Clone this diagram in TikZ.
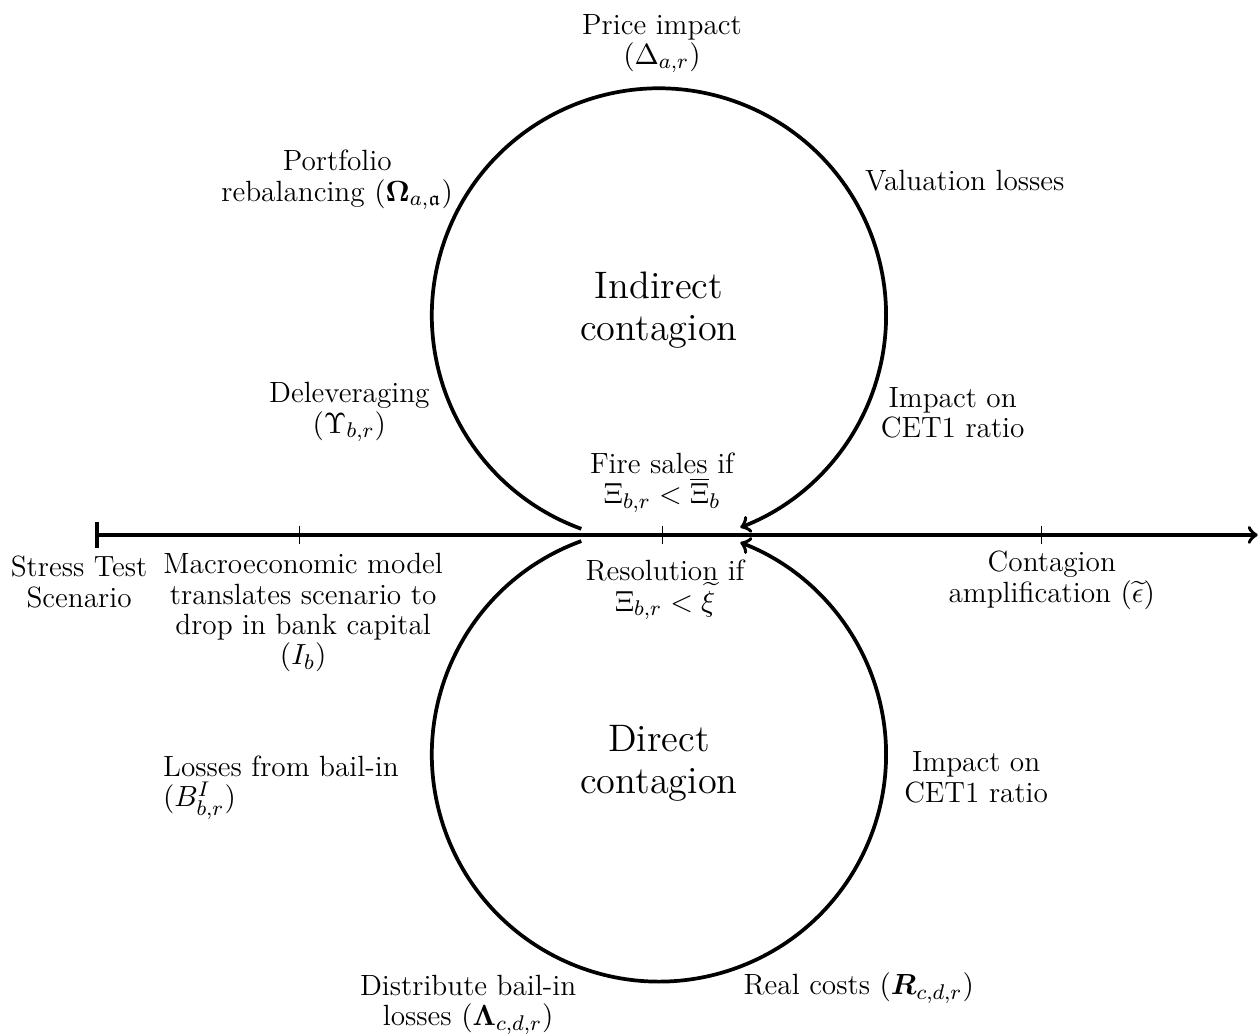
\documentclass[tikz,border=0pt]{standalone}
\usepackage{amsmath,amssymb}
\usepackage{tikz}
\usetikzlibrary{positioning,calc}

\begin{document}
\begin{tikzpicture}[line width=1.4pt]
    \useasboundingbox (-1.255,-6.618) rectangle (15.39,7.067);
    \tikzset{lbl/.style={align=center, inner sep=1pt, font=\fontsize{11}{11.4}\selectfont},
             big/.style={align=center, font=\fontsize{14.4}{15.6}\selectfont}}

    % timeline
    \coordinate (start) at (0,0);
    \coordinate (stop) at (15.36,0);
    \coordinate (macro) at (2.7,0);
    \coordinate (mid) at (7.5,0);
    \coordinate (ampl) at (12.5,0);
    \draw[|->] (start) -- (stop);
    \foreach \t in {macro, mid, ampl}
        \draw[thin] ($(\t)+(0,0.12)$) -- ($(\t)+(0,-0.12)$);

    \node[lbl] at (-0.21,-0.62) (scen) {Stress Test\\Scenario};
    \node[lbl] at (2.75,-1.03) (model) {Macroeconomic model\\translates scenario to\\drop in bank capital\\$(I_b)$};
    \node[lbl] at (12.64,-0.6) (amp) {Contagion\\amplification $(\widetilde{\epsilon})$};

    % the two loops
    \coordinate (ind) at (7.45,2.9);
    \coordinate (dir) at (7.45,-2.9);
    \draw[->] ($(ind)+(250:3)$) arc (250:-69:3);
    \draw[->] ($(dir)+(110:3)$) arc (110:429:3);
    \node[big] at (7.45,2.97) (indc) {Indirect\\contagion};
    \node[big] at (7.45,-3.02) (dirc) {Direct\\contagion};

    % indirect contagion
    \node[lbl] at (7.49,6.49) (price) {Price impact\\$(\Delta_{a,r})$};
    \node[lbl] at (11.49,4.68) (val) {Valuation losses};
    \node[lbl] at (11.33,1.61) (cet1) {Impact on\\CET1 ratio};
    \node[lbl] at (7.49,0.69) (fire) {Fire sales if\\$\Xi_{b,r} < \overline{\Xi}_b$};
    \node[lbl] at (3.36,1.62) (delev) {Deleveraging\\$(\Upsilon_{b,r})$};
    \node[lbl] at (3.20,4.69) (rebal) {Portfolio\\rebalancing $(\boldsymbol{\Omega}_{a,\mathfrak{a}})$};

    % direct contagion
    \node[lbl] at (7.53,-0.73) (resol) {Resolution if\\$\Xi_{b,r} < \widetilde{\xi}$};
    \node[lbl] at (11.64,-3.2) (cet2) {Impact on\\CET1 ratio};
    \node[lbl] at (10.09,-5.99) (real) {Real costs $(\boldsymbol{R}_{c,d,r})$};
    \node[lbl] at (4.93,-6.21) (distr) {Distribute bail-in\\losses $(\boldsymbol{\Lambda}_{c,d,r})$};
    \node[lbl, align=left, anchor=west] at (0.84,-3.34) (bail) {Losses from bail-in\\$(B^I_{b,r})$};
\end{tikzpicture}
\end{document}
